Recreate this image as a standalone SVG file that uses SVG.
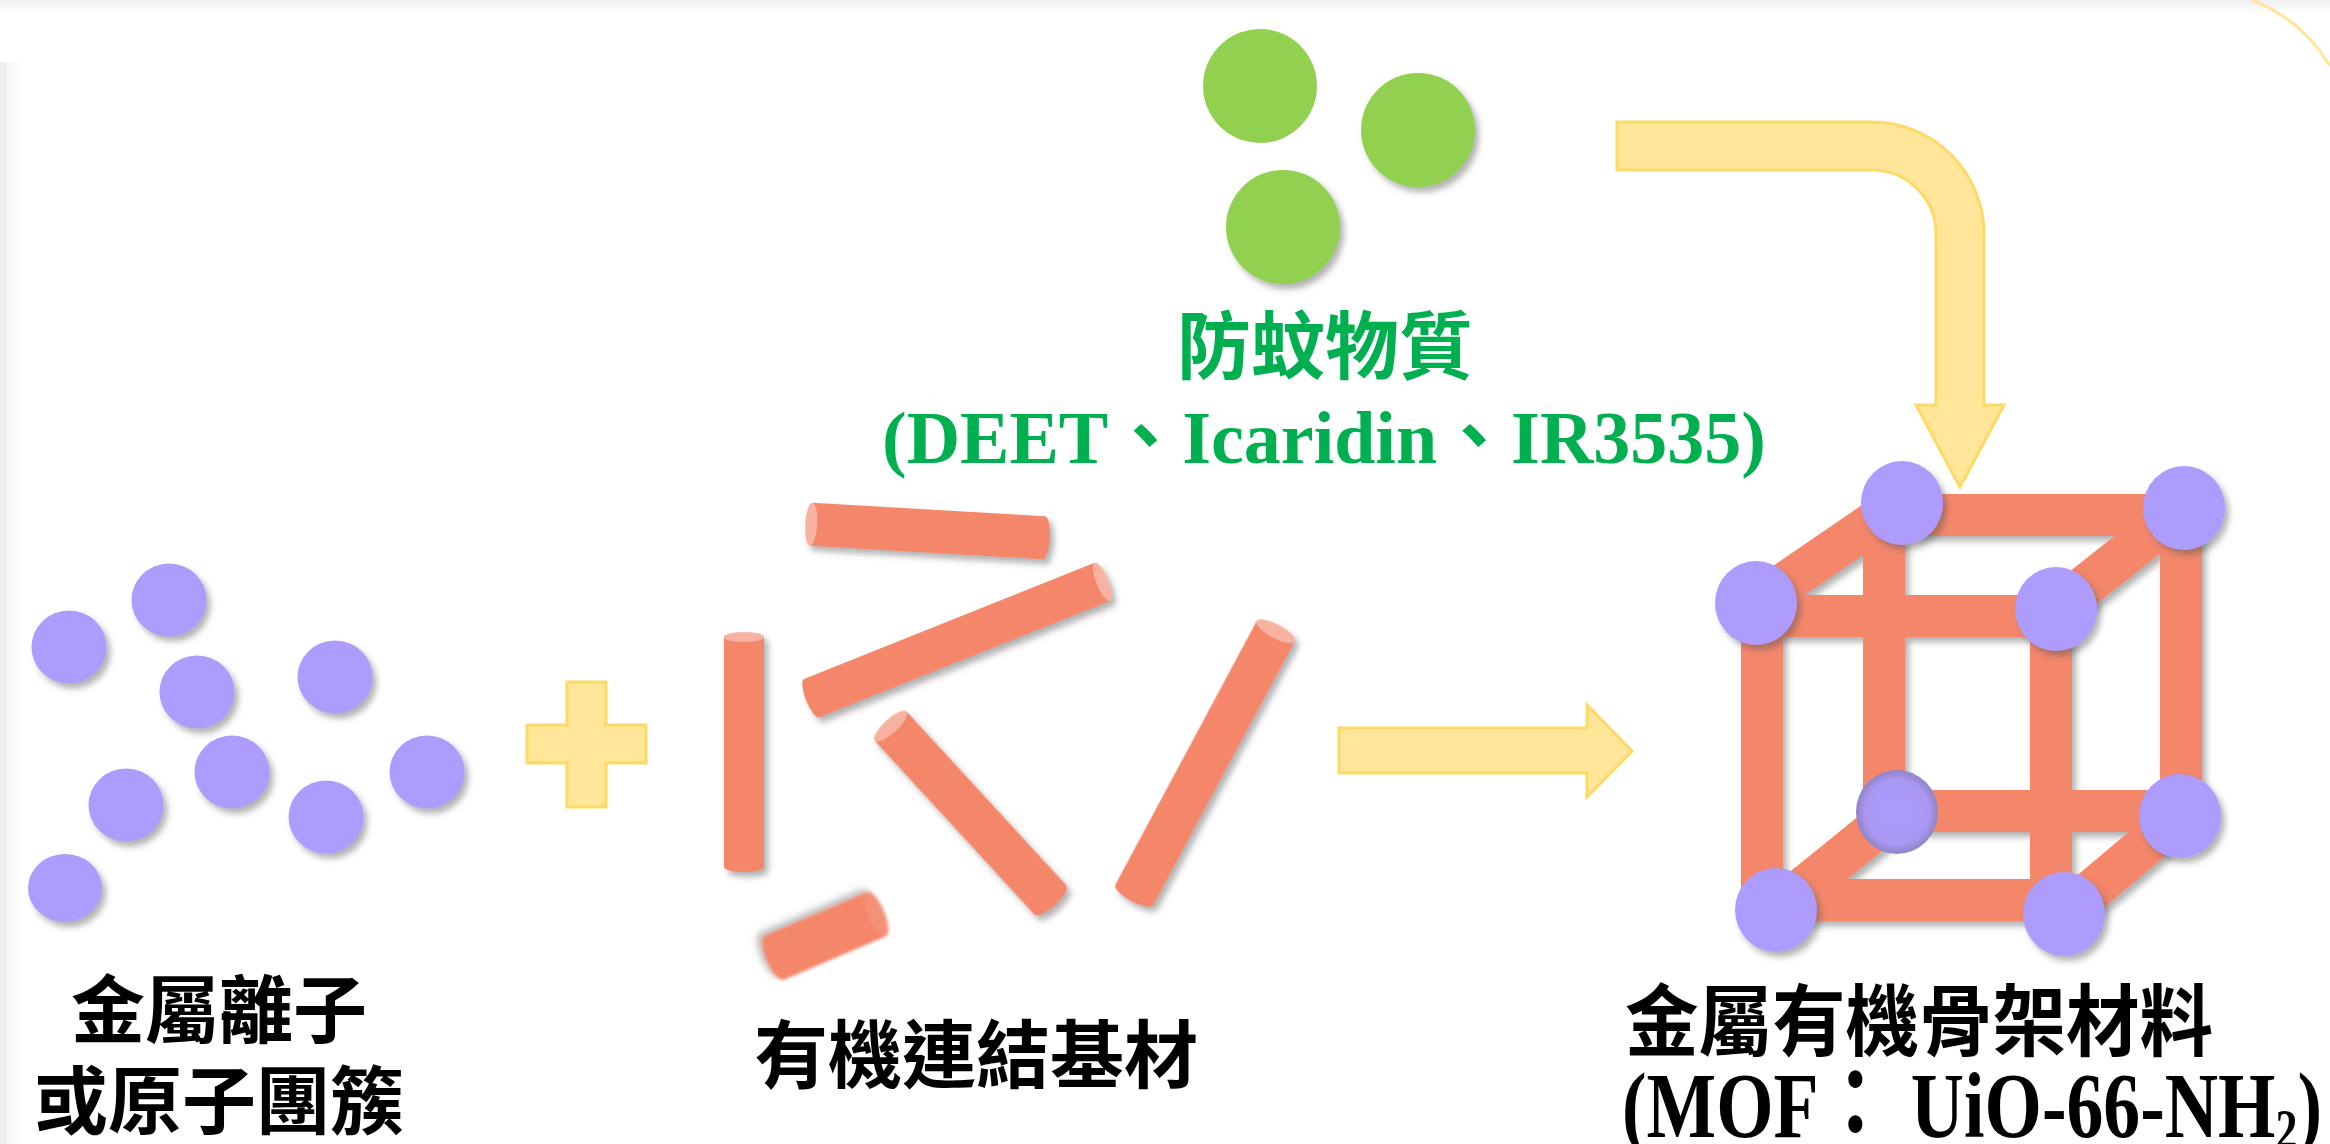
<svg xmlns="http://www.w3.org/2000/svg" width="2330" height="1144" viewBox="0 0 2330 1144">
  <style>
    .ion { fill: #ad9cfc; }
    .rod { fill: #f4866b; }
    .cap { fill: #f8b2a1; }
    .bar { stroke: #f4866b; stroke-width: 42; fill: none; stroke-linecap: butt; }
    .green { fill: #92d050; }
    .flow { fill: #ffe699; stroke: #ffd966; stroke-width: 3; stroke-linejoin: miter; }
    .cjk { font-family: "Noto Sans CJK TC", "Noto Sans CJK SC", sans-serif; font-weight: 700; }
    .latin { font-family: "Liberation Serif", "Noto Sans CJK TC", serif; font-weight: 700; }
    .black { fill: #000000; }
    .label-green { fill: #00b050; }
  </style>
  <defs>
    <filter id="shadow" x="-30%" y="-30%" width="160%" height="160%">
      <feDropShadow dx="4" dy="5" stdDeviation="3" flood-color="#555555" flood-opacity="0.45"/>
    </filter>
    <filter id="shadowSoft" x="-30%" y="-30%" width="160%" height="160%">
      <feGaussianBlur in="SourceGraphic" stdDeviation="1.4" result="b"/>
      <feDropShadow in="b" dx="4" dy="5" stdDeviation="3" flood-color="#555555" flood-opacity="0.4"/>
    </filter>
    <radialGradient id="hiddenNode" cx="50%" cy="50%" r="50%">
      <stop offset="0" stop-color="#ad9cfc"/>
      <stop offset="0.78" stop-color="#a997f2"/>
      <stop offset="1" stop-color="#8f84c4"/>
    </radialGradient>
    <linearGradient id="topEdge" x1="0" y1="0" x2="0" y2="1">
      <stop offset="0" stop-color="#f0f0f0"/>
      <stop offset="1" stop-color="#ffffff"/>
    </linearGradient>
    <linearGradient id="leftEdge" x1="0" y1="0" x2="1" y2="0">
      <stop offset="0" stop-color="#f5f5f5"/>
      <stop offset="1" stop-color="#ffffff"/>
    </linearGradient>
  </defs>

  <!-- page background and frame edges -->
  <rect x="0" y="0" width="2330" height="1144" fill="#ffffff"/>
  <rect x="0" y="0" width="2330" height="14" fill="url(#topEdge)"/>
  <rect x="6" y="62" width="16" height="1082" fill="url(#leftEdge)"/>
  <rect x="0" y="62" width="6" height="1082" fill="#eeeeee"/>
  <path d="M2252,0 A158,158 0 0 1 2330,66" fill="none" stroke="#ffe699" stroke-width="3"/>

  <!-- connectors: plus sign, reaction arrow and loading arrow -->
  <g id="connectors">
    <path class="flow" d="M567,682 H606 V725 H646 V763 H606 V807 H567 V763 H527 V725 H567 Z"/>
    <path class="flow" d="M1339,728 H1587 V705 L1632,751 L1587,797 V773 H1339 Z"/>
    <path class="flow" d="M1617,122 H1872 A112,112 0 0 1 1984,234 V405 H2004 L1960,487 L1916,405 H1936 V234 A64,64 0 0 0 1872,170 H1617 Z"/>
  </g>

  <!-- metal ions or clusters -->
  <g id="metal-ions">
    <g filter="url(#shadow)">
      <ellipse class="ion" cx="69" cy="647" rx="37.5" ry="36.5"/>
      <ellipse class="ion" cx="169" cy="600" rx="37.5" ry="36.5"/>
      <ellipse class="ion" cx="197" cy="692" rx="37.5" ry="36.5"/>
      <ellipse class="ion" cx="335" cy="677" rx="37.5" ry="36.5"/>
      <ellipse class="ion" cx="232" cy="772" rx="37.5" ry="36.5"/>
      <ellipse class="ion" cx="427" cy="772" rx="37.5" ry="36.5"/>
      <ellipse class="ion" cx="126" cy="805" rx="37.5" ry="36.5"/>
      <ellipse class="ion" cx="326" cy="817" rx="37.5" ry="36.5"/>
      <ellipse class="ion" cx="65" cy="888" rx="37" ry="34"/>
    </g>
    <text class="cjk black" x="219" y="1037" font-size="74" text-anchor="middle">金屬離子</text>
    <text class="cjk black" x="219" y="1128" font-size="74" text-anchor="middle">或原子團簇</text>
  </g>

  <!-- organic linkers drawn as cylinders -->
  <g id="linkers">
    <g filter="url(#shadow)">
      <g transform="translate(927.5,531) rotate(3.3)">
        <path class="rod" d="M-116.5,-21.5 H116.5 A6,21.5 0 0 1 116.5,21.5 H-116.5 Z"/>
        <ellipse class="cap" cx="-116.5" cy="0" rx="6" ry="21.5"/>
      </g>
      <g transform="translate(957,640) rotate(158.2)">
        <path class="rod" d="M-156.5,-20.5 H156.5 A6,20.5 0 0 1 156.5,20.5 H-156.5 Z"/>
        <ellipse class="cap" cx="-156.5" cy="0" rx="6" ry="20.5"/>
      </g>
      <g transform="translate(744,752) rotate(90)">
        <path class="rod" d="M-115,-20 H115 A5,20 0 0 1 115,20 H-115 Z"/>
        <ellipse class="cap" cx="-115" cy="0" rx="5" ry="20"/>
      </g>
      <g transform="translate(970.5,813) rotate(47.4)">
        <path class="rod" d="M-118,-21.5 H118 A7,21.5 0 0 1 118,21.5 H-118 Z"/>
        <ellipse class="cap" cx="-118" cy="0" rx="7" ry="21.5"/>
      </g>
      <g transform="translate(1205,763) rotate(118.2)">
        <path class="rod" d="M-149.5,-21.5 H149.5 A7,21.5 0 0 1 149.5,21.5 H-149.5 Z"/>
        <ellipse class="cap" cx="-149.5" cy="0" rx="7" ry="21.5"/>
      </g>
    </g>
    <g filter="url(#shadowSoft)" transform="translate(825.5,936) rotate(156.9)">
      <path class="rod" d="M-55.5,-24 H55.5 A8,24 0 0 1 55.5,24 H-55.5 Z"/>
      <ellipse cx="-55.5" cy="0" rx="8" ry="24" fill="#f69179"/>
    </g>
    <text class="cjk black" x="976" y="1082" font-size="74" text-anchor="middle">有機連結基材</text>
  </g>

  <!-- mosquito repellent molecules -->
  <g id="repellent">
    <circle class="green" cx="1260" cy="86" r="57"/>
    <g filter="url(#shadow)">
      <circle class="green" cx="1418" cy="130" r="57"/>
      <circle class="green" cx="1283" cy="227" r="57"/>
    </g>
    <text class="cjk label-green" x="1325" y="373" font-size="74" text-anchor="middle">防蚊物質</text>
    <text class="latin label-green" x="1324" y="463" font-size="74" text-anchor="middle">(DEET、Icaridin、IR3535)</text>
  </g>

  <!-- metal-organic framework unit cell -->
  <g id="mof">
    <g filter="url(#shadow)">
      <line class="bar" x1="1902" y1="515" x2="2184" y2="515"/>
      <line class="bar" x1="1884" y1="503" x2="1884" y2="812"/>
      <line class="bar" x1="2181" y1="508" x2="2181" y2="816"/>
      <line class="bar" x1="1897" y1="811" x2="2180" y2="811"/>
      <line class="bar" x1="1756" y1="603" x2="1902" y2="503"/>
      <line class="bar" x1="2056" y1="609" x2="2184" y2="508"/>
      <line class="bar" x1="1776" y1="910" x2="1897" y2="812"/>
      <line class="bar" x1="2064" y1="914" x2="2180" y2="816"/>
      <line class="bar" x1="1756" y1="616" x2="2056" y2="616"/>
      <line class="bar" x1="1762" y1="603" x2="1762" y2="910"/>
      <line class="bar" x1="2051" y1="609" x2="2051" y2="914"/>
      <line class="bar" x1="1776" y1="900" x2="2064" y2="900"/>
    </g>
    <ellipse cx="1897" cy="812" rx="41" ry="42" fill="url(#hiddenNode)"/>
    <g filter="url(#shadow)">
      <ellipse class="ion" cx="1902" cy="503" rx="41" ry="42"/>
      <ellipse class="ion" cx="2184" cy="508" rx="41" ry="42"/>
      <ellipse class="ion" cx="1756" cy="603" rx="41" ry="42"/>
      <ellipse class="ion" cx="2056" cy="609" rx="41" ry="42"/>
      <ellipse class="ion" cx="2180" cy="816" rx="41" ry="42"/>
      <ellipse class="ion" cx="1776" cy="910" rx="41" ry="42"/>
      <ellipse class="ion" cx="2064" cy="914" rx="41" ry="42"/>
    </g>
    <text class="cjk black" x="1625" y="1050" font-size="78" textLength="588" lengthAdjust="spacingAndGlyphs">金屬有機骨架材料</text>
    <text class="latin black" x="1622" y="1137" font-size="94" textLength="700" lengthAdjust="spacingAndGlyphs">(MOF： UiO-66-NH<tspan font-size="56" dy="12">2</tspan><tspan dy="-12">)</tspan></text>
  </g>
</svg>
